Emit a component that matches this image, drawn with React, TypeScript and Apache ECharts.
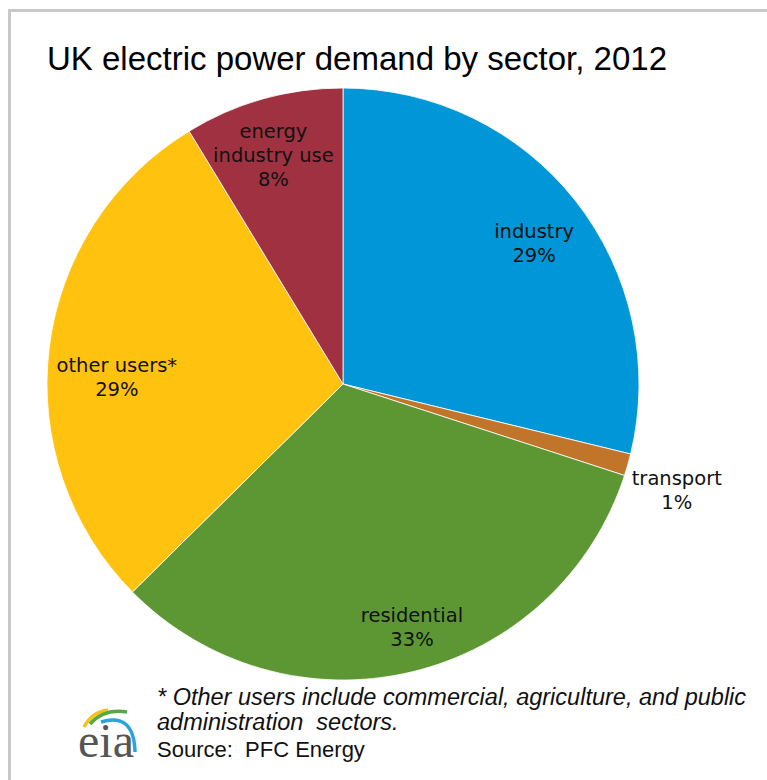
import React, { useEffect, useRef } from "react";
import * as echarts from "echarts";

const categories = ["industry", "transport", "residential", "other users*", "energy\nindustry use"];
const shares = [28.8, 1.2, 32.6, 28.7, 8.7];
const shareLabels = ["29%", "1%", "33%", "29%", "8%"];
const sliceColors = ["#0096d7", "#c0752a", "#5c9733", "#ffc20e", "#9f3140"];
const titleText = "UK electric power demand by sector, 2012";
const footnoteLines = [
  "* Other users include commercial, agriculture, and public",
  "administration  sectors.",
];
const sourceText = "Source:  PFC Energy";

// label nudges (style only), per slice index
const labelNudges = [
  [0, 10],
  [100, 40],
  [13, 7],
  [15, 23],
  [-4, 5],
];

export default function App() {
  const ref = useRef<HTMLDivElement>(null);
  useEffect(() => {
    document.body.style.margin = "0";
    const chart = echarts.init(ref.current!, null, { renderer: "svg" });
    const data = categories.map((name, i) => ({
      name,
      value: shares[i],
      itemStyle: { color: sliceColors[i] },
    }));
    const labelData = categories.map((name, i) => ({
      name,
      value: shares[i],
    }));
    chart.setOption({
      animation: false,
      title: {
        text: titleText,
        left: 47,
        top: 42,
        padding: 0,
        textStyle: {
          fontFamily: "Liberation Sans",
          fontSize: 33,
          fontWeight: "normal",
          color: "#000",
        },
      },
      series: [
        {
          type: "pie",
          center: [343, 384],
          radius: [0, 296],
          startAngle: 90,
          clockwise: true,
          silent: true,
          label: { show: false },
          labelLine: { show: false },
          itemStyle: { borderColor: "#ffffff", borderWidth: 0.8 },
          emphasis: { disabled: true },
          data,
        },
        {
          type: "pie",
          center: [343, 384],
          radius: [0, 480],
          startAngle: 90,
          clockwise: true,
          silent: true,
          itemStyle: { color: "rgba(0,0,0,0)" },
          emphasis: { disabled: true },
          labelLine: { show: false },
          label: {
            show: true,
            position: "inside",
            fontFamily: "DejaVu Sans",
            fontSize: 19.5,
            lineHeight: 24,
            color: "#111",
            align: "center",
            formatter: (p: any) => p.name + "\n" + shareLabels[p.dataIndex],
          },
          labelLayout: (p: any) => ({
            dx: labelNudges[p.dataIndex][0],
            dy: labelNudges[p.dataIndex][1],
          }),
          data: labelData,
        },
      ],
      graphic: [
        {
          type: "rect",
          shape: { x: 9.5, y: 10.5, width: 800, height: 800 },
          style: { fill: "none", stroke: "#c8c8c8", lineWidth: 3 },
          silent: true,
        },
        {
          type: "text",
          x: 157,
          y: 697,
          style: {
            text: footnoteLines[0],
            font: "italic 23.5px 'Liberation Sans'",
            fill: "#111",
            verticalAlign: "middle",
          },
        },
        {
          type: "text",
          x: 157,
          y: 722,
          style: {
            text: footnoteLines[1],
            font: "italic 23.5px 'Liberation Sans'",
            fill: "#111",
            verticalAlign: "middle",
          },
        },
        {
          type: "text",
          x: 157,
          y: 749,
          style: {
            text: sourceText,
            font: "22px 'Liberation Sans'",
            fill: "#111",
            verticalAlign: "middle",
          },
        },
        {
          type: "text",
          x: 78,
          y: 740,
          style: {
            text: "eia",
            font: "48px 'Liberation Serif'",
            fill: "#555555",
            verticalAlign: "middle",
          },
        },
        {
          type: "bezierCurve",
          shape: { x1: 84, y1: 727, cpx1: 92, cpy1: 712, x2: 108, y2: 710 },
          style: { stroke: "#f2c318", lineWidth: 3.5, fill: "none" },
        },
        {
          type: "bezierCurve",
          shape: { x1: 90, y1: 724, cpx1: 104, cpy1: 708, x2: 127, y2: 712 },
          style: { stroke: "#5aa845", lineWidth: 3.5, fill: "none" },
        },
        {
          type: "bezierCurve",
          shape: { x1: 101, y1: 722, cpx1: 134, cpy1: 712, x2: 135, y2: 752 },
          style: { stroke: "#2ba3dd", lineWidth: 3.5, fill: "none" },
        },
      ],
    });
    return () => chart.dispose();
  }, []);
  return <div ref={ref} style={{ width: 767, height: 780 }} />;
}
